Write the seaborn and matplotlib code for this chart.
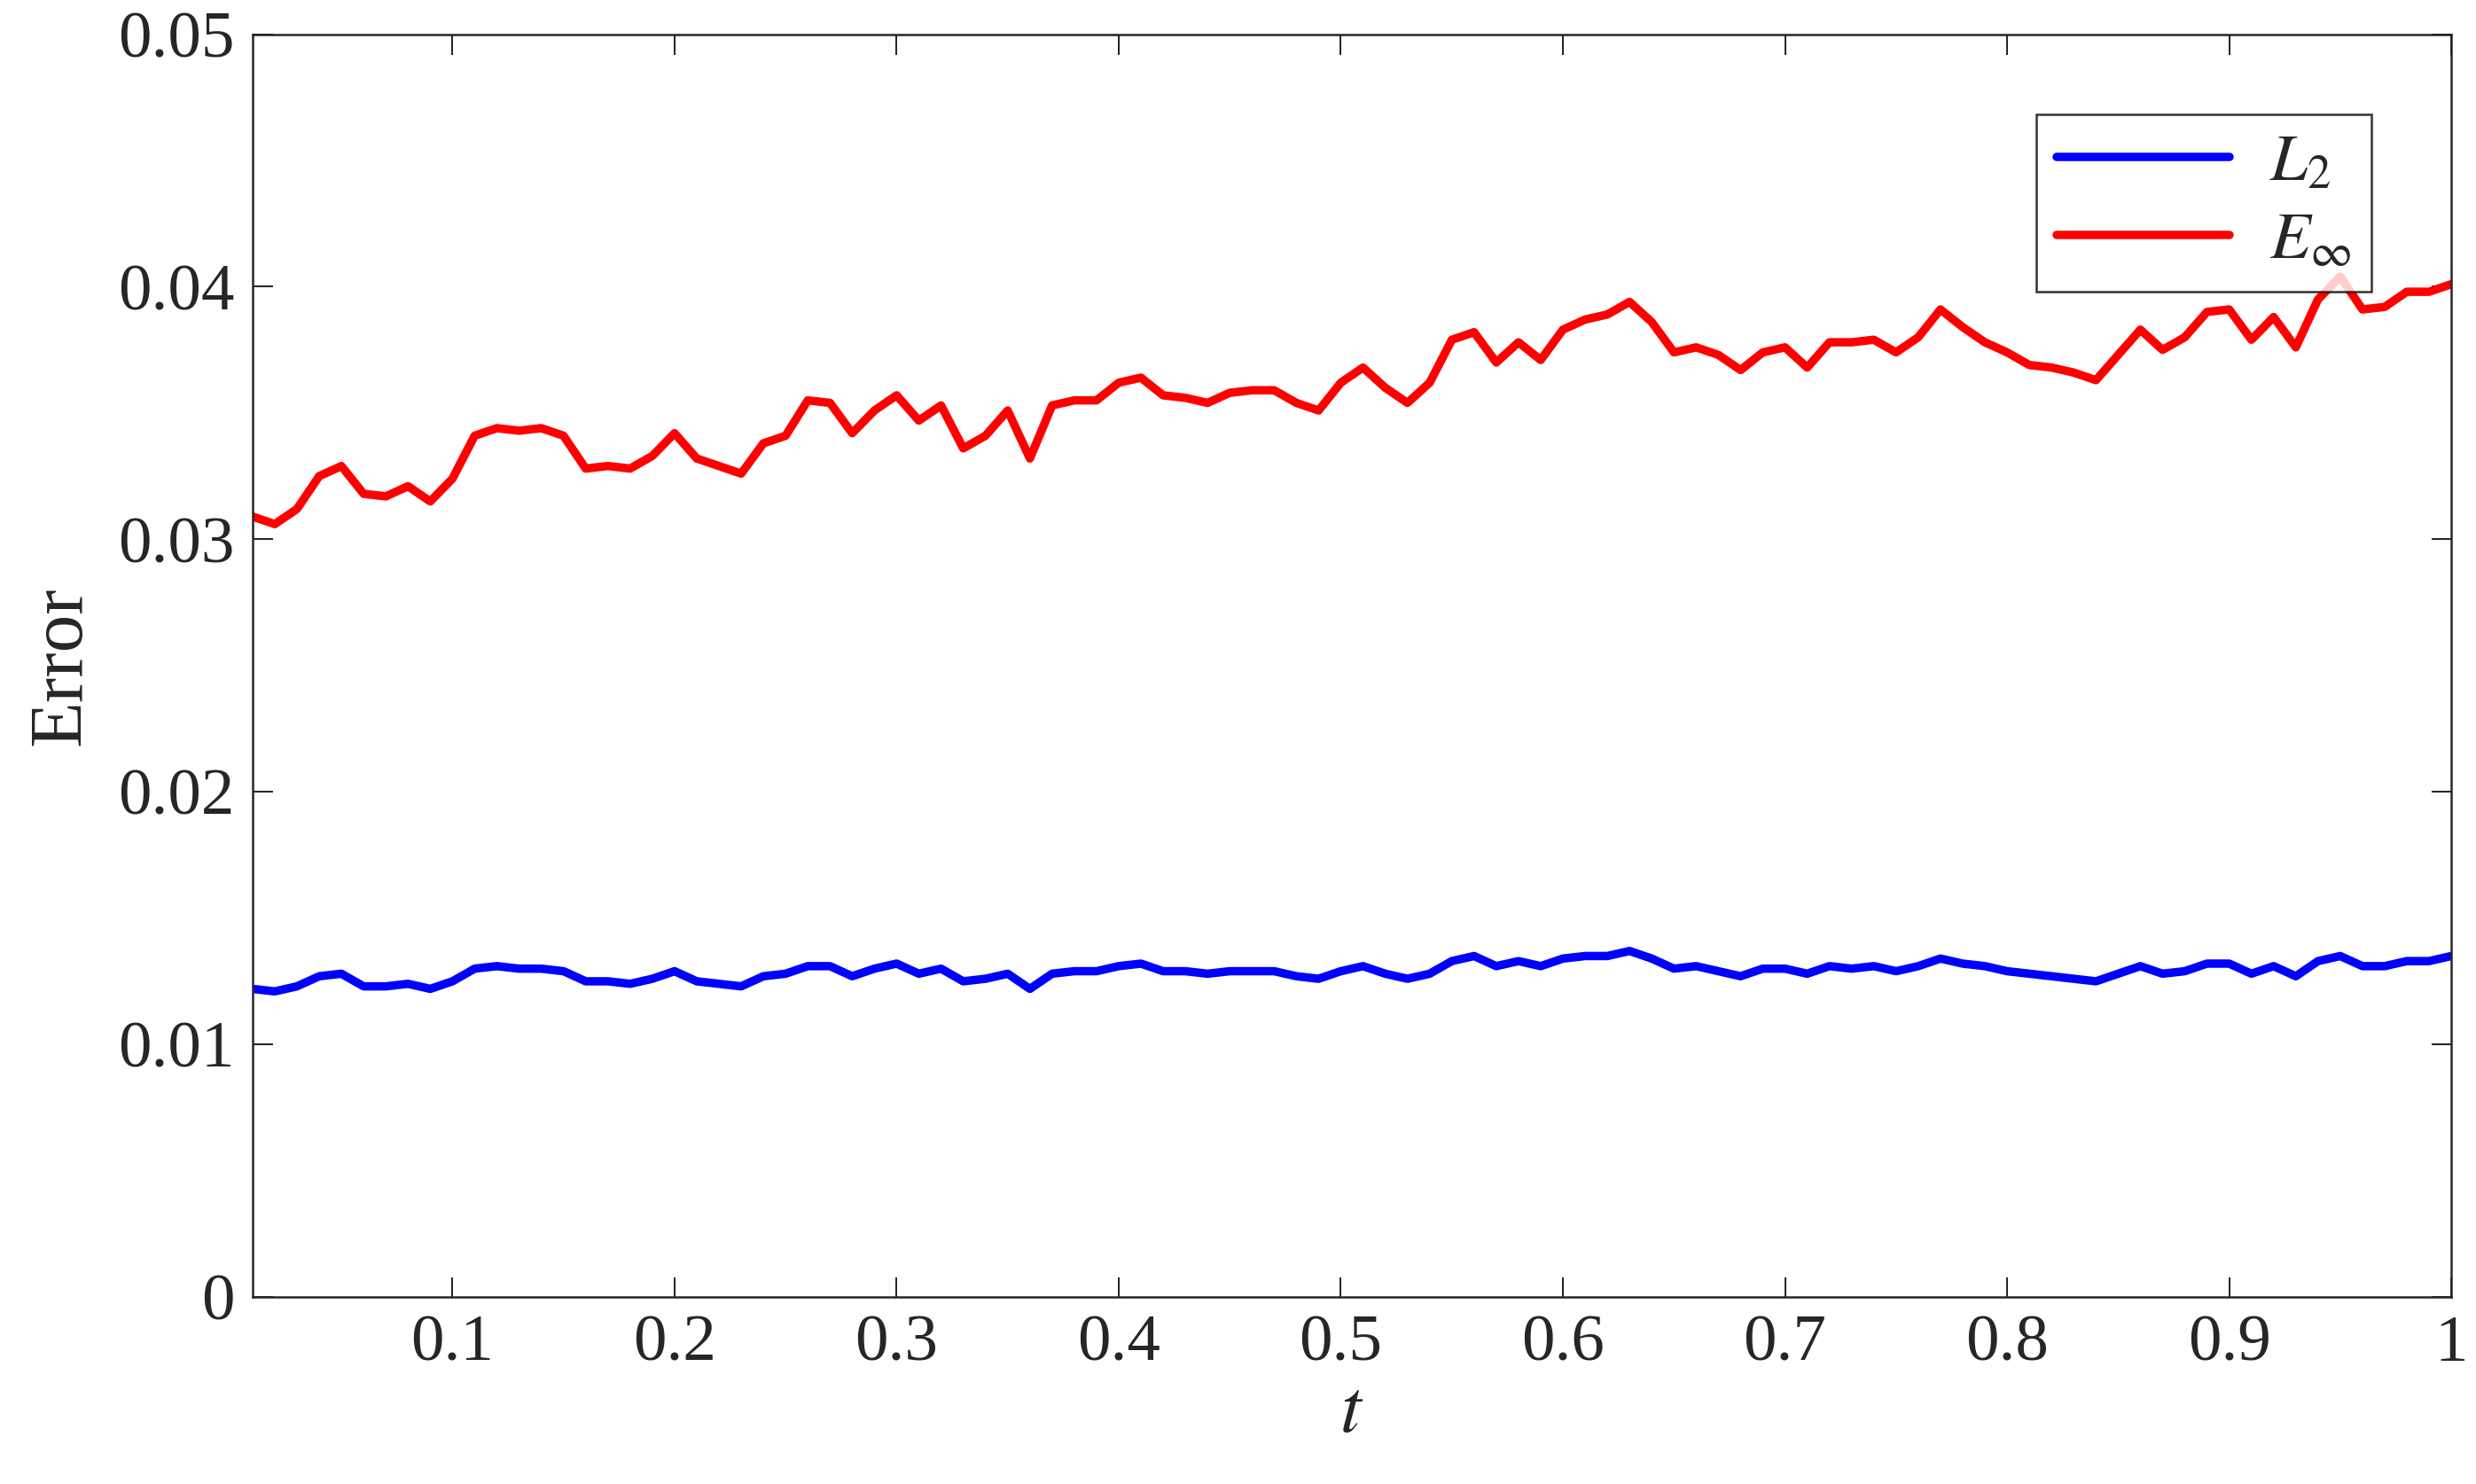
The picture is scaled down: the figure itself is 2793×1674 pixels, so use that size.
import numpy as np
import pandas as pd
import matplotlib
matplotlib.use("Agg")
import matplotlib.pyplot as plt
import seaborn as sns

t = np.round(np.arange(1, 101) / 100, 2)
l2 = [0.0122, 0.0121, 0.0123, 0.0127, 0.0128, 0.0123, 0.0123, 0.0124, 0.0122, 0.0125,
      0.0130, 0.0131, 0.0130, 0.0130, 0.0129, 0.0125, 0.0125, 0.0124, 0.0126, 0.0129,
      0.0125, 0.0124, 0.0123, 0.0127, 0.0128, 0.0131, 0.0131, 0.0127, 0.0130, 0.0132,
      0.0128, 0.0130, 0.0125, 0.0126, 0.0128, 0.0122, 0.0128, 0.0129, 0.0129, 0.0131,
      0.0132, 0.0129, 0.0129, 0.0128, 0.0129, 0.0129, 0.0129, 0.0127, 0.0126, 0.0129,
      0.0131, 0.0128, 0.0126, 0.0128, 0.0133, 0.0135, 0.0131, 0.0133, 0.0131, 0.0134,
      0.0135, 0.0135, 0.0137, 0.0134, 0.0130, 0.0131, 0.0129, 0.0127, 0.0130, 0.0130,
      0.0128, 0.0131, 0.0130, 0.0131, 0.0129, 0.0131, 0.0134, 0.0132, 0.0131, 0.0129,
      0.0128, 0.0127, 0.0126, 0.0125, 0.0128, 0.0131, 0.0128, 0.0129, 0.0132, 0.0132,
      0.0128, 0.0131, 0.0127, 0.0133, 0.0135, 0.0131, 0.0131, 0.0133, 0.0133, 0.0135]
einf = [0.0309, 0.0306, 0.0312, 0.0325, 0.0329, 0.0318, 0.0317, 0.0321, 0.0315, 0.0324,
        0.0341, 0.0344, 0.0343, 0.0344, 0.0341, 0.0328, 0.0329, 0.0328, 0.0333, 0.0342,
        0.0332, 0.0329, 0.0326, 0.0338, 0.0341, 0.0355, 0.0354, 0.0342, 0.0351, 0.0357,
        0.0347, 0.0353, 0.0336, 0.0341, 0.0351, 0.0332, 0.0353, 0.0355, 0.0355, 0.0362,
        0.0364, 0.0357, 0.0356, 0.0354, 0.0358, 0.0359, 0.0359, 0.0354, 0.0351, 0.0362,
        0.0368, 0.0360, 0.0354, 0.0362, 0.0379, 0.0382, 0.0370, 0.0378, 0.0371, 0.0383,
        0.0387, 0.0389, 0.0394, 0.0386, 0.0374, 0.0376, 0.0373, 0.0367, 0.0374, 0.0376,
        0.0368, 0.0378, 0.0378, 0.0379, 0.0374, 0.0380, 0.0391, 0.0384, 0.0378, 0.0374,
        0.0369, 0.0368, 0.0366, 0.0363, 0.0373, 0.0383, 0.0375, 0.0380, 0.0390, 0.0391,
        0.0379, 0.0388, 0.0376, 0.0395, 0.0404, 0.0391, 0.0392, 0.0398, 0.0398, 0.0401]

df = pd.DataFrame({"t": np.concatenate([t, t]),
                   "err": l2 + einf,
                   "series": [r"$L_2$"] * 100 + [r"$E_\infty$"] * 100})

sns.set_style("ticks")
plt.rcParams["font.family"] = ["Liberation Serif", "DejaVu Serif"]
plt.rcParams["mathtext.fontset"] = "stix"

fig = plt.figure(figsize=(15.517, 9.3), dpi=180)
ax = fig.add_axes([0.102, 0.126, 0.888, 0.851])
sns.lineplot(data=df, x="t", y="err", hue="series",
             palette=["#0000ff", "#ff0000"], linewidth=3.8, ax=ax)

ax.set_xlim(0.01, 1)
ax.set_ylim(0, 0.05)
ax.set_xticks(np.round(np.arange(0.1, 1.01, 0.1), 1))
ax.set_xticklabels(["0.1", "0.2", "0.3", "0.4", "0.5", "0.6", "0.7", "0.8", "0.9", "1"])
ax.set_yticks([0, 0.01, 0.02, 0.03, 0.04, 0.05])
ax.set_yticklabels(["0", "0.01", "0.02", "0.03", "0.04", "0.05"])
ax.tick_params(direction="in", labelsize=30, length=9, top=True, right=True, pad=8)
for s in ax.spines.values():
    s.set_linewidth(1)
ax.set_xlabel(r"$t$", fontsize=34, labelpad=2)
ax.set_ylabel("Error", fontsize=34, labelpad=10)

leg = ax.legend(loc="upper right", fontsize=30, frameon=True, fancybox=False,
                edgecolor="black", handlelength=2.6, borderaxespad=1.2,
                labelspacing=0.25, borderpad=0.3, handletextpad=0.6)
leg.get_frame().set_linewidth(1)

fig.savefig("out.png", dpi=180)
